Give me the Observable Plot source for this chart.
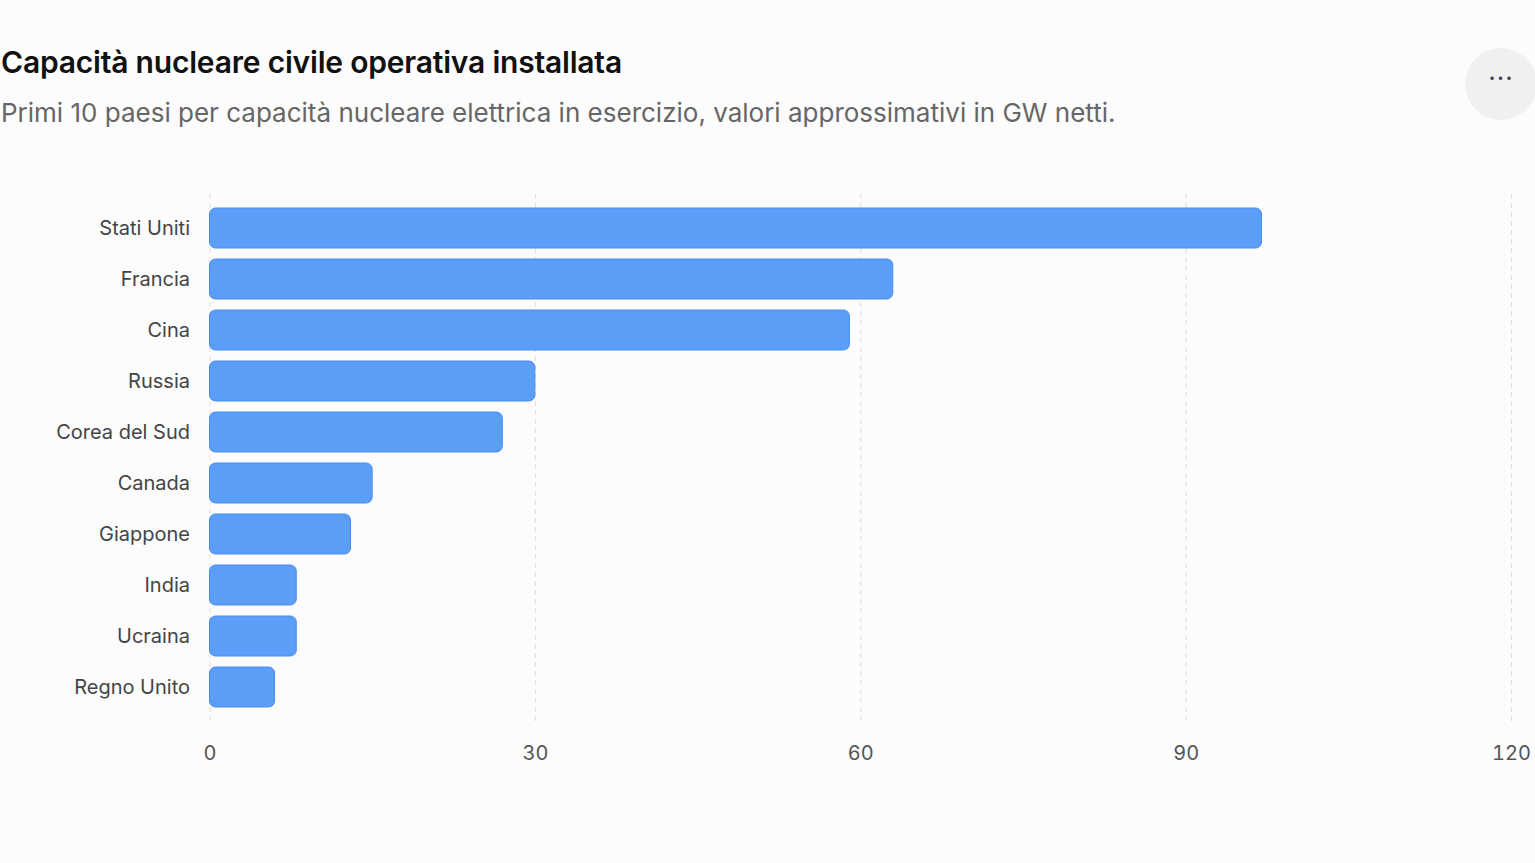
<!DOCTYPE html>
<html><head><meta charset="utf-8">
<script src="https://cdn.jsdelivr.net/npm/d3@7"></script>
<script src="https://cdn.jsdelivr.net/npm/@observablehq/plot@0.6"></script>
<style>
body{margin:0;background:#fcfcfc;font-family:Inter,"Noto Sans",sans-serif;width:1535px;height:863px;overflow:hidden;position:relative}
#t{position:absolute;left:1px;top:44px;font-size:30px;font-weight:600;color:#111;letter-spacing:-0.2px}
#s{position:absolute;left:1px;top:97px;font-size:26px;color:#666}
#m{position:absolute;left:1465px;top:48px;width:72px;height:72px;border-radius:50%;background:#f0f0f0;color:#444;font-size:26px;text-align:center;line-height:60px;letter-spacing:1px}
#c{position:absolute;left:0;top:168px}
</style></head><body>
<div id="t">Capacità nucleare civile operativa installata</div>
<div id="s">Primi 10 paesi per capacità nucleare elettrica in esercizio, valori approssimativi in GW netti.</div>
<div id="m">···</div>
<div id="c"></div>
<script>
const countries=["Stati Uniti","Francia","Cina","Russia","Corea del Sud","Canada","Giappone","India","Ucraina","Regno Unito"];
const values=[97,63,59,30,27,15,13,8,8,6];
const xTicks=[0,30,60,90,120];
const data=countries.map((c,i)=>({c,v:values[i]}));
const p=Plot.plot({
 width:1535,height:615,marginLeft:209.5,marginRight:24,marginTop:26,marginBottom:62,
 style:{background:"transparent",fontFamily:"Inter, 'Noto Sans', sans-serif",fontSize:"20px",color:"#555"},
 x:{domain:[0,120],ticks:xTicks,label:null,tickSize:0,tickPadding:24},
 y:{domain:countries,label:null,padding:0.22,tickSize:0,tickPadding:20},
 marks:[
  Plot.gridX(xTicks,{stroke:"#ddd",strokeOpacity:1,strokeDasharray:"5,4",y1:null,y2:null}),
  Plot.barX(data,{x:"v",y:"c",fill:"#5b9ef8",stroke:"#4a8cf0",strokeWidth:1,rx:6}),
  Plot.axisX({ticks:xTicks,tickSize:0,tickPadding:24,fill:"#555",label:null}),
  Plot.axisY({tickSize:0,tickPadding:20,fill:"#444",label:null})
 ]
});
document.getElementById("c").appendChild(p);
</script></body></html>
